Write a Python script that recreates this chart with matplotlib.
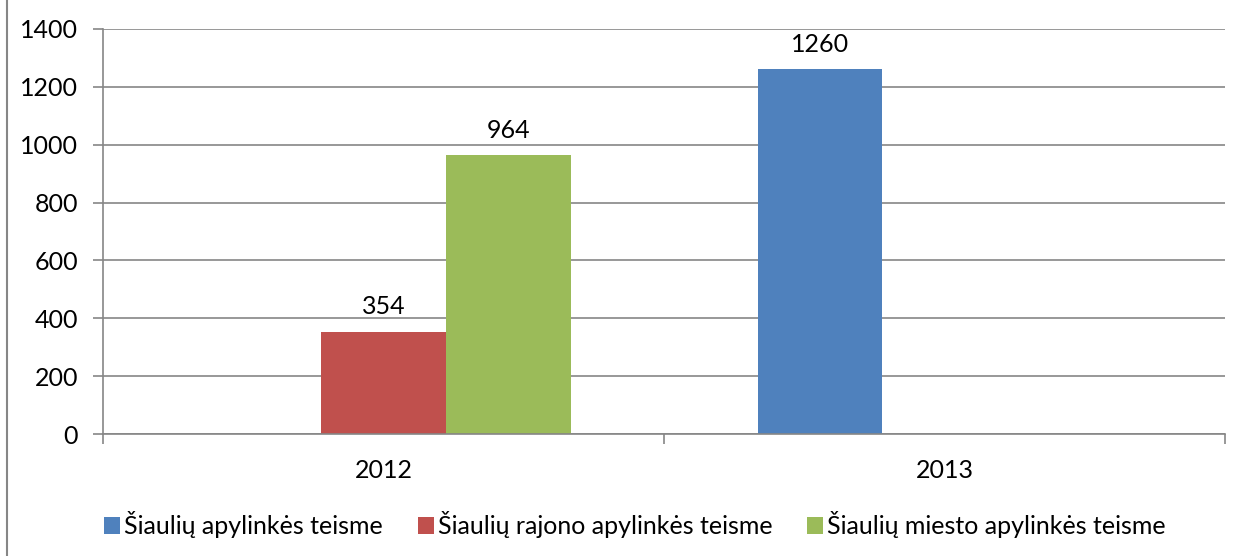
import matplotlib
matplotlib.use("Agg")
import matplotlib.pyplot as plt
from matplotlib.lines import Line2D
import numpy as np

categories = ["2012", "2013"]
series_names = ["Šiaulių apylinkės teisme", "Šiaulių rajono apylinkės teisme", "Šiaulių miesto apylinkės teisme"]
apylinkes = [np.nan, 1260]
rajono = [354, np.nan]
miesto = [964, np.nan]
colors = ["#4F81BD", "#C0504D", "#9BBB59"]
yticks = [0, 200, 400, 600, 800, 1000, 1200, 1400]

plt.rcParams['font.family'] = ['Lato', 'DejaVu Sans']
grey = "#868686"
fs = 18

fig = plt.figure(figsize=(12.43, 5.56), dpi=100)
ax = fig.add_axes([103/1243, 1-434/556, (1225-103)/1243, (434-29)/556])

x = np.arange(len(categories))
w = 1/4.5
for i, (vals, name, c) in enumerate(zip([apylinkes, rajono, miesto], series_names, colors)):
    ax.bar(x + (i-1)*w, vals, width=w, color=c, label=name, zorder=3)
    for xi, v in zip(x + (i-1)*w, vals):
        if not np.isnan(v):
            ax.annotate(f"{int(v)}", (xi, v), xytext=(0, 18), textcoords="offset points",
                        ha="center", va="center", fontsize=fs, color="black")

ax.set_xlim(-0.5, len(categories)-0.5)
ax.set_ylim(0, 1400)
ax.set_yticks(yticks)
ax.set_yticklabels([str(t) for t in yticks], fontsize=fs)
ax.set_xticks(x)
ax.set_xticklabels(categories, fontsize=fs)
ax.set_xticks(np.arange(-0.5, len(categories), 1.0), minor=True)
ax.tick_params(axis='x', which='major', length=0, pad=18)
ax.tick_params(axis='x', which='minor', length=7, color=grey, width=1.2)
ax.tick_params(axis='y', length=7, color=grey, width=1.2, pad=11)
ax.grid(axis='y', color=grey, linewidth=1.2, zorder=0)
for s in ['top', 'right']:
    ax.spines[s].set_visible(False)
for s in ['left', 'bottom']:
    ax.spines[s].set_color(grey)
    ax.spines[s].set_linewidth(1.2)
ax.spines['bottom'].set_zorder(4)

leg = fig.legend(loc='center', bbox_to_anchor=(635/1243, 1-525/556), ncol=3, frameon=False,
                 fontsize=fs, handlelength=0.64, handleheight=0.64, handletextpad=0.16,
                 columnspacing=1.4)

fig.add_artist(Line2D([7/1243, 7/1243], [0, 1], color=grey, linewidth=1.5))

fig.savefig("out.png", dpi=100)
